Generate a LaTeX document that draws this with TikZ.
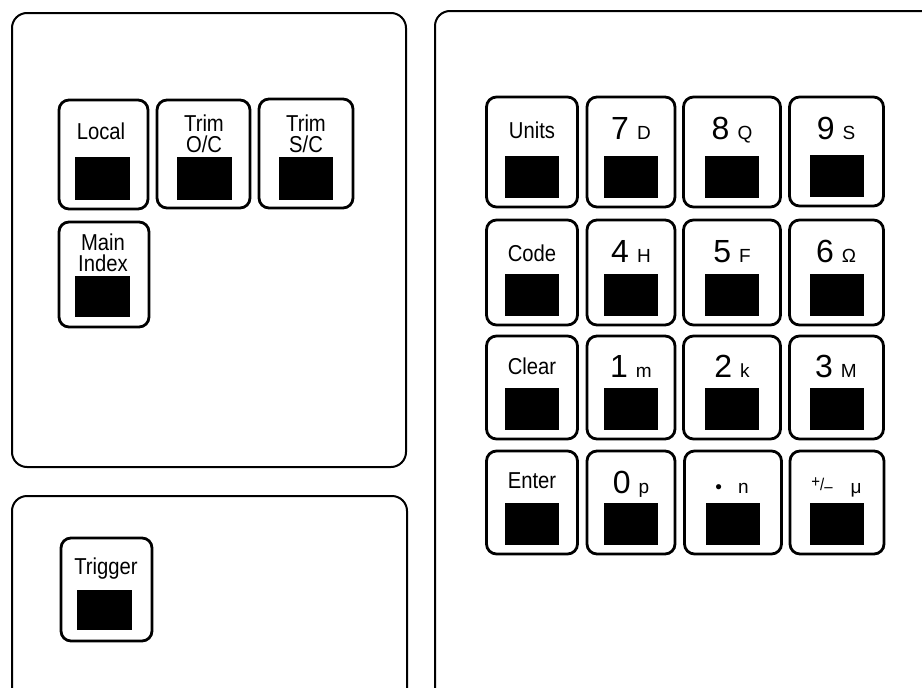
\documentclass[tikz,border=0pt]{standalone}
\usepackage{fontspec}
\setmainfont{Liberation Sans}
\newfontfamily\keyf[FakeStretch=0.88]{Liberation Sans}
\newfontfamily\numf{Liberation Sans}
\newcommand\wordfont{\keyf\fontsize{23}{21}\selectfont}
\newcommand\digf{\numf\fontsize{32}{32}\selectfont}
\newcommand\letf{\numf\fontsize{19}{19}\selectfont}
\newcommand\pmsign{{\keyf\fontsize{17}{17}\selectfont\raisebox{3pt}{+}/\raisebox{-2pt}{–}}}
% key: name, cx, top, bottom, width
\newcommand\mykey[5]{%
  \node[keybox, minimum width=#5pt, minimum height={(#4-#3)*1pt}] (#1) at (#2,{(#3+#4)/2}) {};
  \node[pad] (#1pad) at (#2,{#4-30}) {};}
\newcommand\wordlabel[4]{\node[wordlbl] (#1lbl) at (#2,{#3+33}) {#4};}
\newcommand\diglabel[5]{\node[anchor=base, inner sep=0pt] (#1lbl) at (#2,{#3+42}) {\digf #4\hspace{8pt}\letf #5};}
\begin{document}
\begin{tikzpicture}[x=1pt,y=-1pt,
  panel/.style={draw, line width=2pt, rounded corners=15pt},
  keybox/.style={draw, line width=2.8pt, rounded corners=10pt, inner sep=0pt, outer sep=0pt},
  pad/.style={fill=black, minimum width=54pt, minimum height=42pt, inner sep=0pt, outer sep=0pt},
  wordlbl/.style={font=\wordfont, align=center, inner sep=0pt}]
\useasboundingbox (0,0) rectangle (922,688);
\clip (0,0) rectangle (922,688);
% panels
\draw[panel] (12,13) rectangle (406,467);
\draw[panel] (12,496) rectangle (407,720);
\draw[panel] (435,11) rectangle (960,720);
% left panel keys
\node[keybox, minimum width=89pt, minimum height=109pt] (local) at (103.5,154.5) {};
\node[pad, minimum width=55pt, minimum height=43pt] (localpad) at (102.5,178.5) {};
\node[wordlbl] (locallbl) at (101,131) {Local};
\node[keybox, minimum width=93pt, minimum height=108pt] (trimoc) at (203.5,154) {};
\node[pad, minimum width=55pt, minimum height=43pt] (trimocpad) at (204.5,178.5) {};
\node[wordlbl] (trimoclbl) at (204,133.5) {Trim\\O/C};
\node[keybox, minimum width=94pt, minimum height=109pt] (trimsc) at (306,153.5) {};
\node[pad, minimum width=54pt, minimum height=43pt] (trimscpad) at (306,178.5) {};
\node[wordlbl] (trimsclbl) at (306,133.5) {Trim\\S/C};
\node[keybox, minimum width=90pt, minimum height=105pt] (mainidx) at (104,274.5) {};
\node[pad, minimum width=55pt, minimum height=41pt] (mainidxpad) at (102.5,296.5) {};
\node[wordlbl] (mainidxlbl) at (103,252.5) {Main\\Index};
% trigger
\node[keybox, minimum width=91pt, minimum height=103pt] (trigger) at (106.5,589.5) {};
\node[pad, minimum width=55pt, minimum height=40pt] (triggerpad) at (104.5,610) {};
\node[wordlbl] (triggerlbl) at (106,569) {Trigger};
% right panel keys
\mykey{units}{532}{97}{207}{91}
\mykey{seven}{631}{97}{207}{88}
\mykey{eight}{732}{97}{207}{97}
\mykey{nine}{836.5}{97}{206}{94}
\mykey{code}{532}{220}{325}{91}
\mykey{four}{631}{220}{325}{88}
\mykey{five}{732}{220}{325}{97}
\mykey{six}{836.5}{220}{325}{94}
\mykey{clear}{532}{336}{439}{91}
\mykey{one}{631}{336}{439}{88}
\mykey{two}{732}{336}{439}{97}
\mykey{three}{836.5}{336}{439}{94}
\mykey{enter}{532}{451}{554}{91}
\mykey{zero}{631}{451}{554}{88}
\mykey{point}{733}{451}{554}{97}
\mykey{sign}{837}{451}{554}{94}
\wordlabel{units}{532}{97}{Units}
\wordlabel{code}{532}{220}{Code}
\wordlabel{clear}{532}{333}{Clear}
\wordlabel{enter}{532}{448}{Enter}
\diglabel{seven}{631}{97}{7}{D}
\diglabel{eight}{732}{97}{8}{Q}
\diglabel{nine}{836}{97}{9}{S}
\diglabel{four}{631}{220}{4}{H}
\diglabel{five}{732}{220}{5}{F}
\diglabel{six}{836}{220}{6}{Ω}
\diglabel{one}{631}{335}{1}{m}
\diglabel{two}{732}{335}{2}{k}
\diglabel{three}{836}{335}{3}{M}
\diglabel{zero}{631}{451}{0}{p}
\node[anchor=base, inner sep=0pt] (pointlbl) at (732,493) {\letf •\hspace{16pt}n};
\node[anchor=base, inner sep=0pt] (signlbl) at (822,490) {\pmsign};
\node[anchor=base, inner sep=0pt] (mulbl) at (856,493) {\letf μ};
\end{tikzpicture}
\end{document}
